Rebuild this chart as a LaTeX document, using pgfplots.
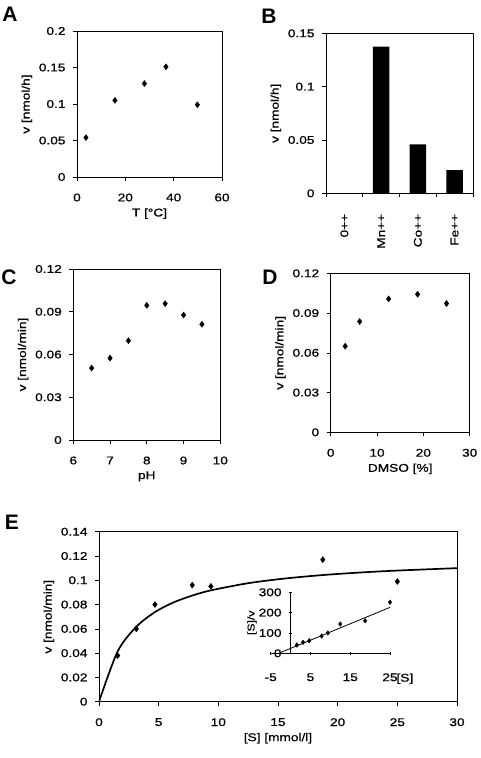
\documentclass[border=0pt]{standalone}
\usepackage{pgfplots}
\pgfplotsset{compat=1.18}
\usepackage{fontspec}
\setmainfont{Liberation Sans}[FakeStretch=1.22, FakeBold=0.8]
\newfontfamily\labfont{Liberation Sans Bold}
\newcommand{\fs}{\fontsize{11.2}{13}\selectfont}
\pgfplotsset{
  every axis/.append style={
    scale only axis,
    tick align=outside,
    xtick pos=left, ytick pos=left,
    major tick length=4pt,
    tick style={black, line width=0.6pt},
    axis line style={line width=0.8pt},
    tick label style={font=\fs},
    label style={font=\fs},
    /pgf/number format/assume math mode=true,
    scaled ticks=false,
    yticklabel style={/pgf/number format/fixed, /pgf/number format/precision=3, xshift=-4pt},
    xticklabel style={yshift=-9pt},
  },
  pts/.style={only marks, mark=diamond*, mark size=3pt, black},
}
\begin{document}
\begin{tikzpicture}
\useasboundingbox (0,0) rectangle (480pt,-758pt);
% Panel labels
\node[font=\fontsize{21}{23}\selectfont\labfont] at (10pt,-14pt) {A};
\node[font=\fontsize{21}{23}\selectfont\labfont] at (269pt,-16pt) {B};
\node[font=\fontsize{21}{23}\selectfont\labfont] at (9pt,-277.5pt) {C};
\node[font=\fontsize{21}{23}\selectfont\labfont] at (270pt,-277pt) {D};
\node[font=\fontsize{21}{23}\selectfont\labfont] at (12pt,-522pt) {E};

% A
\begin{axis}[at={(77pt,-31pt)}, anchor=north west, width=145pt, height=146pt,
  xmin=0, xmax=60, ymin=0, ymax=0.2, xtick={0,20,40,60}, ytick={0,0.05,0.1,0.15,0.2},
  xlabel={T [°C]}, ylabel={v [nmol/h]}]
\addplot[pts] coordinates {(3.7,0.054) (15.7,0.105) (27.9,0.128) (36.8,0.151) (49.8,0.099)};
\end{axis}

% B
\begin{axis}[at={(326pt,-33.3pt)}, anchor=north west, width=147pt, height=160pt,
  xmin=-0.5, xmax=3.5, ymin=0, ymax=0.15, ytick={0,0.05,0.1,0.15},
  xtick={0,1,2,3}, xticklabels={0++,Mn++,Co++,Fe++},
  xticklabel style={rotate=90, anchor=east, yshift=0pt, xshift=-4pt},
  minor xtick={-0.5,0.5,1.5,2.5,3.5},
  major x tick style={draw=none},
  minor tick length=4pt,
  ylabel={v [nmol/h]}]
\addplot[ybar, bar width=16.7pt, fill=black, draw=none] coordinates {(0,0) (1,0.1374) (2,0.0459) (3,0.0218)};
\end{axis}

% C
\begin{axis}[at={(73.3pt,-269pt)}, anchor=north west, width=147pt, height=171pt,
  xmin=6, xmax=10, ymin=0, ymax=0.12, xtick={6,7,8,9,10}, ytick={0,0.03,0.06,0.09,0.12},
  xlabel={pH}, ylabel={v [nmol/min]}]
\addplot[pts] coordinates {(6.5,0.0505) (7,0.0575) (7.5,0.0697) (8,0.0945) (8.5,0.0957) (9,0.0877) (9.5,0.0812)};
\end{axis}

% D
\begin{axis}[at={(330.7pt,-273.3pt)}, anchor=north west, width=139pt, height=159pt,
  xmin=0, xmax=30, ymin=0, ymax=0.12, xtick={0,10,20,30}, ytick={0,0.03,0.06,0.09,0.12},
  xlabel={DMSO [\%]}, ylabel={v [nmol/min]}]
\addplot[pts] coordinates {(3.125,0.065) (6.25,0.0836) (12.5,0.1007) (18.75,0.1042) (25,0.0972)};
\end{axis}

% E
\begin{axis}[at={(99pt,-531.7pt)}, anchor=north west, width=358pt, height=170pt,
  xmin=0, xmax=30, ymin=0, ymax=0.14, xtick={0,5,10,15,20,25,30}, ytick={0,0.02,0.04,0.06,0.08,0.1,0.12,0.14},
  xlabel={[S] [mmol/l]}, ylabel={v [nmol/min]}]
\addplot[black, line width=1.7pt, smooth, tension=0.5] coordinates {
  (0,0) (1.5625,0.0414) (3.125,0.0617) (4.6875,0.0738) (6.25,0.0818) (7.8125,0.0874)
  (9.375,0.0917) (12.5,0.0976) (15.625,0.1015) (18.75,0.1043) (21.875,0.1064) (25,0.1080) (30,0.1100)};
\addplot[pts] coordinates {(1.5625,0.038) (3.125,0.060) (4.6875,0.080) (7.8125,0.096) (9.375,0.095) (18.75,0.117) (25,0.099)};
\end{axis}

% Inset
\begin{axis}[at={(270.7pt,-592.3pt)}, anchor=north west, width=119.3pt, height=61pt,
  axis lines=middle, axis line style={-, line width=0.6pt},
  clip=false,
  xmin=-5, xmax=25, ymin=0, ymax=300,
  xtick={-5,5,15,25}, ytick={0,100,200,300},
  hide obscured y ticks=false, hide obscured x ticks=false,
  major tick length=3pt,
  xticklabel style={yshift=-6pt},
  yticklabel style={xshift=0pt},
  ylabel={[S]/v},
  y label style={at={(axis description cs:-0.157,0.5)}, anchor=center, rotate=90}]
\addplot[black, line width=0.8pt] coordinates {(-3,0) (25,226)};
\addplot[only marks, mark=diamond*, mark size=2.3pt, black] coordinates {(1.5625,41) (3.125,54) (4.6875,62) (7.8125,85) (9.375,100) (12.5,144) (18.75,160) (25,251)};
\node[font=\fs, anchor=west, inner sep=0pt] at (axis cs:26.6,-125) {[S]};
\end{axis}
\end{tikzpicture}
\end{document}
